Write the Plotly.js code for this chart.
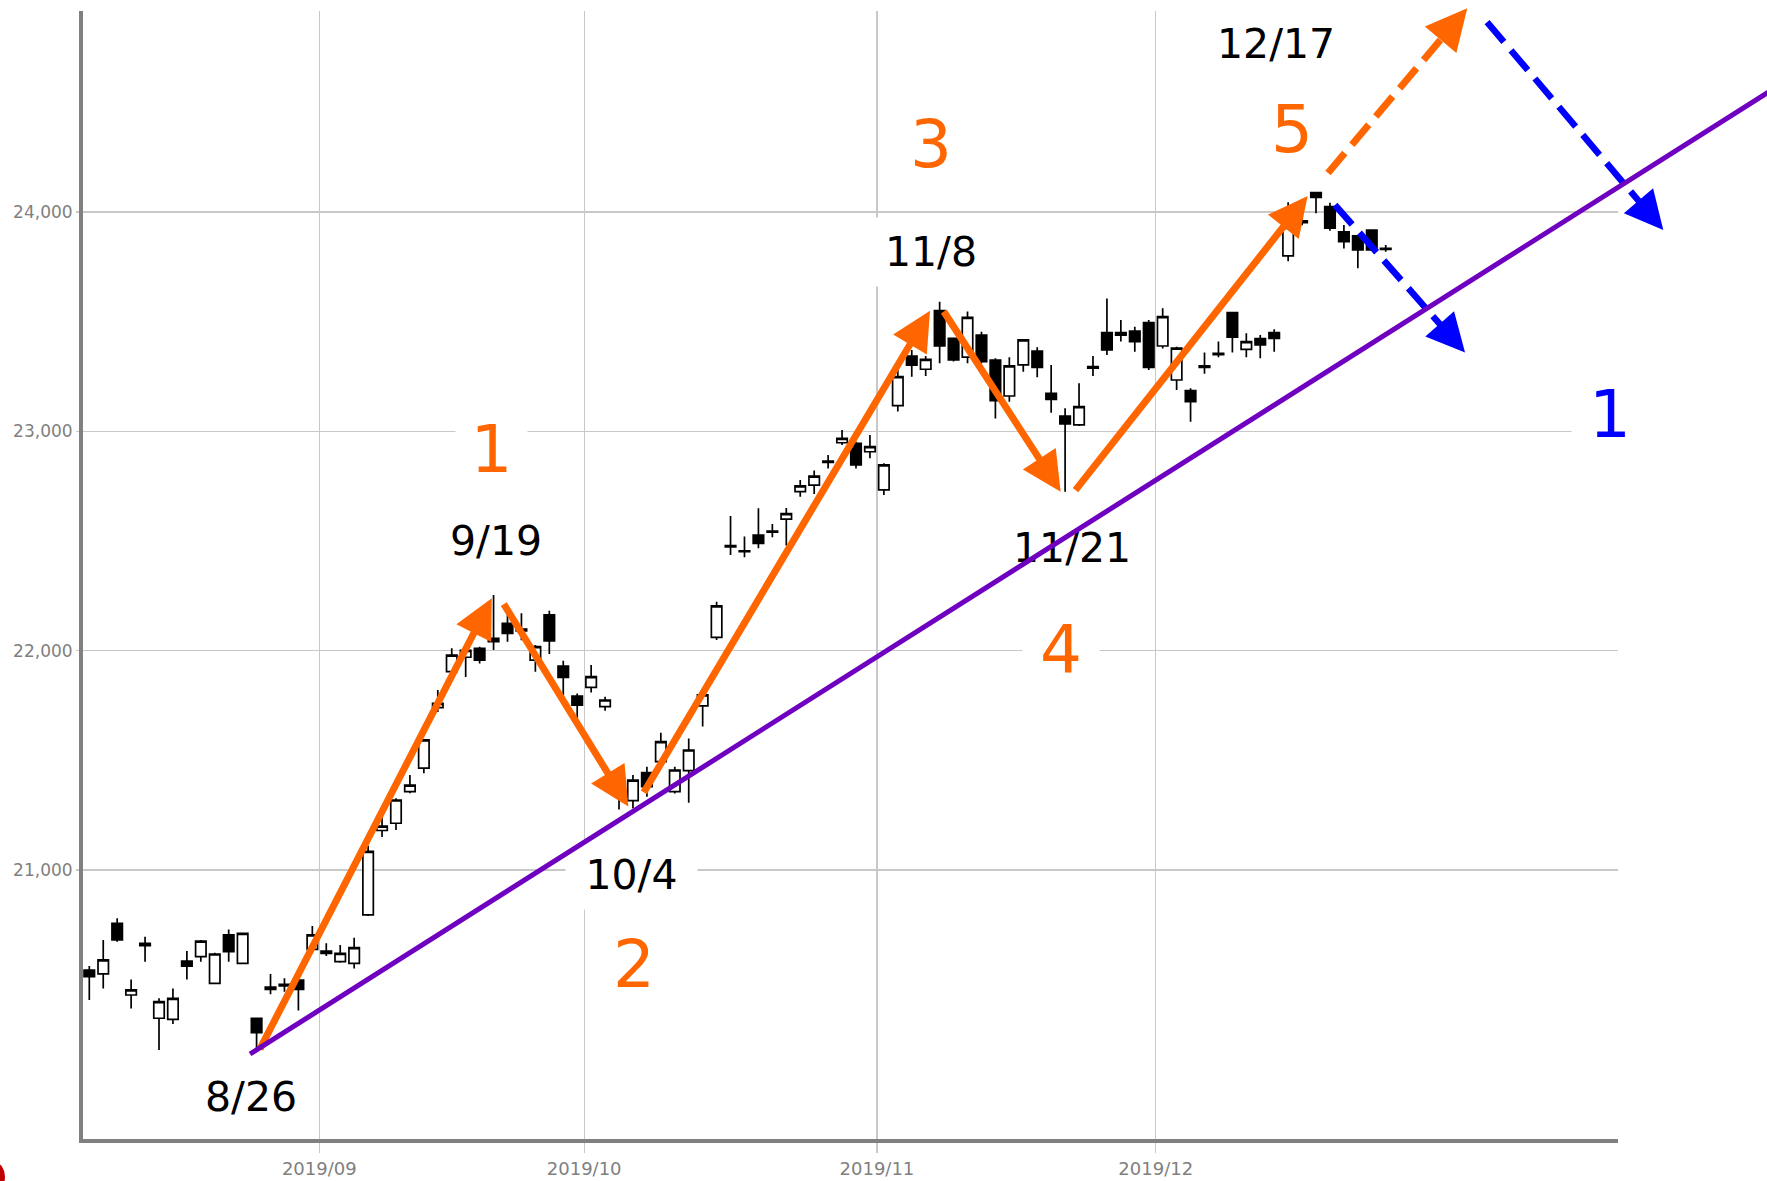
<!DOCTYPE html>
<html>
<head>
<meta charset="utf-8">
<script src="https://cdn.plot.ly/plotly-3.0.1.min.js"></script>
<style>
  html, body { margin: 0; padding: 0; background: #ffffff; }
  #chart { width: 1767px; height: 1181px; }
</style>
</head>
<body>
<div id="chart"></div>
<script>
// ---------------- DATA ----------------
const tradeDates = [
  '2019-08-07','2019-08-08','2019-08-09','2019-08-13','2019-08-14','2019-08-15','2019-08-16','2019-08-19','2019-08-20','2019-08-21',
  '2019-08-22','2019-08-23','2019-08-26','2019-08-27','2019-08-28','2019-08-29','2019-08-30','2019-09-02','2019-09-03','2019-09-04',
  '2019-09-05','2019-09-06','2019-09-09','2019-09-10','2019-09-11','2019-09-12','2019-09-13','2019-09-17','2019-09-18','2019-09-19',
  '2019-09-20','2019-09-24','2019-09-25','2019-09-26','2019-09-27','2019-09-30','2019-10-01','2019-10-02','2019-10-03','2019-10-04',
  '2019-10-07','2019-10-08','2019-10-09','2019-10-10','2019-10-11','2019-10-15','2019-10-16','2019-10-17','2019-10-18','2019-10-21',
  '2019-10-23','2019-10-24','2019-10-25','2019-10-28','2019-10-29','2019-10-30','2019-10-31','2019-11-01','2019-11-05','2019-11-06',
  '2019-11-07','2019-11-08','2019-11-11','2019-11-12','2019-11-13','2019-11-14','2019-11-15','2019-11-18','2019-11-19','2019-11-20',
  '2019-11-21','2019-11-22','2019-11-25','2019-11-26','2019-11-27','2019-11-28','2019-11-29','2019-12-02','2019-12-03','2019-12-04',
  '2019-12-05','2019-12-06','2019-12-09','2019-12-10','2019-12-11','2019-12-12','2019-12-13','2019-12-16','2019-12-17','2019-12-18',
  '2019-12-19','2019-12-20','2019-12-23','2019-12-24'
];
const openPrices = [
  20544,20526,20757,20430,20666,20324,20319,20585,20605,20483,
  20704,20574,20324,20466,20472,20498,20638,20630,20582,20574,
  20795,21180,21213,21357,21464,21740,21904,21970,22011,22056,
  22125,22090,21957,22163,21930,21793,21833,21745,21430,21316,
  21444,21494,21357,21453,21748,22061,22479,22455,22527,22540,
  22600,22725,22755,22858,22948,22945,22907,22733,23117,23343,
  23283,23550,23424,23338,23439,23325,23161,23303,23366,23173,
  23070,23029,23288,23450,23450,23457,23496,23389,23234,23186,
  23292,23350,23541,23374,23423,23450,23800,23960,24088,24025,
  23910,23891,23918,23834
];
const highPrices = [
  20562,20681,20780,20501,20696,20415,20460,20631,20681,20623,
  20729,20714,20324,20526,20506,20498,20745,20666,20658,20691,
  21110,21240,21327,21433,21596,21821,22011,22030,22018,22254,
  22163,22170,22026,22182,21954,21805,21935,21790,21440,21433,
  21471,21626,21471,21600,21813,22223,22614,22520,22649,22578,
  22650,22778,22821,22892,23006,22953,22983,22854,23280,23371,
  23343,23591,23424,23546,23454,23333,23338,23417,23383,23302,
  23105,23219,23344,23606,23508,23477,23508,23561,23386,23196,
  23359,23409,23541,23447,23439,23465,24045,23980,24091,24042,
  23941,23895,23921,23850
];
const lowPrices = [
  20407,20460,20673,20369,20582,20179,20298,20501,20582,20480,
  20582,20571,20170,20434,20445,20359,20635,20608,20577,20551,
  20790,21150,21182,21350,21441,21720,21882,21880,21942,22003,
  22041,22048,21904,21985,21775,21684,21809,21726,21276,21281,
  21334,21471,21349,21307,21654,22049,22436,22426,22467,22517,
  22480,22702,22714,22831,22938,22831,22877,22710,23090,23249,
  23252,23310,23318,23310,23310,23059,23135,23272,23246,23085,
  22725,23024,23252,23348,23409,23363,23280,23378,23189,23044,
  23262,23338,23359,23338,23333,23363,23775,23940,23994,23915,
  23834,23743,23824,23819
];
const closePrices = [
  20514,20590,20681,20453,20655,20400,20415,20562,20676,20617,
  20628,20711,20258,20456,20479,20456,20704,20620,20620,20646,
  21085,21200,21319,21387,21593,21760,21980,22001,21957,22041,
  22079,22098,22018,22044,21878,21752,21882,21775,21342,21410,
  21380,21585,21456,21547,21798,22204,22473,22451,22489,22545,
  22625,22751,22796,22864,22968,22847,22930,22847,23249,23302,
  23328,23389,23326,23520,23318,23140,23298,23417,23292,23146,
  23034,23113,23295,23371,23438,23409,23292,23523,23379,23135,
  23298,23355,23429,23409,23394,23424,23930,23952,24067,23926,
  23865,23827,23827,23830
];

// axis ticks
const monthTickPos  = [16.5, 35.5, 56.5, 76.5];
const monthTickText = ['2019/09', '2019/10', '2019/11', '2019/12'];
const priceTickVals = [21000, 22000, 23000, 24000];
const priceTickText = ['21,000', '22,000', '23,000', '24,000'];

// Elliott wave arrows (trading-day position, price)
const waveFromPos = [12.20, 29.70, 39.74, 61.26, 70.71];
const waveFromVal = [20179, 22216, 21350, 23550, 22729];
const waveToPos   = [28.87, 38.67, 60.31, 69.68, 87.40];
const waveToVal   = [22239, 21289, 23550, 22725, 24073];

// projected (dashed) arrows: orange up, blue down, blue down
const projFromPos = [88.86, 89.36, 100.27];
const projFromVal = [24178, 24032, 24866];
const projToPos   = [98.85, 98.69, 112.91];
const projToVal   = [24929, 23359, 23918];

// support trend line
const trendPos = [11.53, 121.0];
const trendVal = [20161, 24569];

// wave count labels
const waveLabelText = ['1', '2', '3', '4', '5'];
const waveLabelPos  = [28.82, 39.08, 60.38, 69.71, 86.31];
const waveLabelVal  = [22919, 20567, 24310, 22008, 24378];
// alternative count label
const altLabelText = ['1'];
const altLabelPos  = [109.09];
const altLabelVal  = [23079];
// date labels
const dateLabelText = ['8/26', '9/19', '10/4', '11/8', '11/21', '12/17'];
const dateLabelPos  = [11.6, 29.18, 38.9, 60.38, 70.5, 85.13];
const dateLabelVal  = [19965, 22500, 20977, 23819, 22468, 24764];

// ---------------- GEOMETRY ----------------
const W = 1767, H = 1181;
const PLOT = { left: 83, right: 1618, top: 11, bottom: 1139 };
const X0 = 89.3, DX = 13.94;        // px of first trading day, px per trading day
const YREF = 212, DY = 0.21933;     // px of 24,000, px per yen
const posAt = px => (px - X0) / DX;
const valAt = py => 24000 - (py - YREF) / DY;
const toPx = (p, v) => [X0 + p * DX, YREF + (24000 - v) * DY];

const xPos = tradeDates.map((d, i) => i);

const FONT = 'DejaVu Sans';
const ORANGE = '#FF6600';
const BLUE = '#0000FF';
const PURPLE = '#7000C0';

const traces = [];
traces.push({
  type: 'candlestick',
  x: xPos, open: openPrices, high: highPrices, low: lowPrices, close: closePrices,
  text: tradeDates,
  xaxis: 'x', yaxis: 'y',
  increasing: { line: { color: '#000000', width: 1.7 }, fillcolor: '#ffffff' },
  decreasing: { line: { color: '#000000', width: 1.7 }, fillcolor: '#000000' },
  whiskerwidth: 0,
  hoverinfo: 'skip',
  showlegend: false
});

const annotations = [];

// date labels
const bgDates = { '10/4': true, '11/8': true };
dateLabelText.forEach((t, i) => {
  const a = {
    x: dateLabelPos[i], y: dateLabelVal[i], xref: 'x2', yref: 'y2',
    text: t, showarrow: false, xanchor: 'center', yanchor: 'middle',
    font: { family: FONT, size: 41, color: '#000000' }, borderpad: 0
  };
  if (bgDates[t]) { a.bgcolor = '#ffffff'; a.width = t === '10/4' ? 131 : 120; a.height = 68; }
  annotations.push(a);
});
// wave numbers
const bgWave = [true, false, false, true, false];
waveLabelText.forEach((t, i) => {
  const a = {
    x: waveLabelPos[i], y: waveLabelVal[i], xref: 'x2', yref: 'y2',
    text: t, showarrow: false, xanchor: 'center', yanchor: 'middle',
    font: { family: FONT, size: 66, color: ORANGE }, borderpad: 0
  };
  if (bgWave[i]) { a.bgcolor = '#ffffff'; a.width = i === 0 ? 71 : 76; a.height = 84; }
  annotations.push(a);
});
altLabelText.forEach((t, i) => {
  annotations.push({
    x: altLabelPos[i], y: altLabelVal[i], xref: 'x2', yref: 'y2',
    text: t, showarrow: false, xanchor: 'center', yanchor: 'middle',
    font: { family: FONT, size: 66, color: BLUE }, borderpad: 0,
    bgcolor: '#ffffff', width: 76, height: 84
  });
});

// solid wave arrows
waveFromPos.forEach((p, i) => {
  annotations.push({
    x: waveToPos[i], y: waveToVal[i], ax: p, ay: waveFromVal[i],
    xref: 'x2', yref: 'y2', axref: 'x2', ayref: 'y2',
    text: ' ', font: { size: 1 }, borderpad: 0, showarrow: true,
    arrowhead: 2, arrowsize: 1.12, arrowwidth: 7, arrowcolor: ORANGE, standoff: 0
  });
});

// dashed projection arrows
const projColor = [ORANGE, BLUE, BLUE];
const projWidth = [7, 6.5, 6.5];
projFromPos.forEach((p, i) => {
  const a = toPx(p, projFromVal[i]);
  const b = toPx(projToPos[i], projToVal[i]);
  const dx = b[0] - a[0], dy = b[1] - a[1];
  const len = Math.hypot(dx, dy);
  const ux = dx / len, uy = dy / len;
  const endPx = [b[0] - ux * 16, b[1] - uy * 16];
  traces.push({
    type: 'scatter', mode: 'lines',
    x: [p, posAt(endPx[0])], y: [projFromVal[i], valAt(endPx[1])],
    xaxis: 'x2', yaxis: 'y2', hoverinfo: 'skip', showlegend: false,
    line: { color: projColor[i], width: projWidth[i], dash: '26px,11px' }
  });
  annotations.push({
    x: projToPos[i], y: projToVal[i], xref: 'x2', yref: 'y2',
    ax: -ux * 18, ay: -uy * 18,
    text: ' ', font: { size: 1 }, borderpad: 0, showarrow: true,
    arrowhead: 2, arrowsize: 1.18, arrowwidth: projWidth[i], arrowcolor: projColor[i], standoff: 0
  });
});

// trend line (drawn last, on top)
annotations.push({
  x: trendPos[0], y: trendVal[0], ax: trendPos[1], ay: trendVal[1],
  xref: 'x2', yref: 'y2', axref: 'x2', ayref: 'y2',
  text: ' ', font: { size: 1 }, borderpad: 0, showarrow: true,
  arrowhead: 0, arrowwidth: 5, arrowcolor: PURPLE, standoff: 0
});

const layout = {
  width: W, height: H,
  margin: { l: 0, r: 0, t: 0, b: 0, pad: 0 },
  paper_bgcolor: '#ffffff',
  plot_bgcolor: 'rgba(0,0,0,0)',
  showlegend: false,
  boxgap: 0.25, boxgroupgap: 0,
  xaxis: {
    domain: [PLOT.left / W, PLOT.right / W],
    range: [posAt(PLOT.left), posAt(PLOT.right)],
    type: 'linear', anchor: 'y',
    tickmode: 'array', tickvals: monthTickPos, ticktext: monthTickText,
    showgrid: true, gridcolor: '#c8c8c8', gridwidth: 1.3,
    zeroline: false,
    showline: true, linecolor: '#808080', linewidth: 4,
    ticks: 'outside', ticklen: 10, tickwidth: 1.3, tickcolor: '#c8c8c8',
    tickfont: { family: FONT, size: 18, color: '#808080' },
    rangeslider: { visible: false },
    fixedrange: true
  },
  yaxis: {
    domain: [1 - PLOT.bottom / H, 1 - PLOT.top / H],
    range: [valAt(PLOT.bottom), valAt(PLOT.top)],
    anchor: 'x',
    tickmode: 'array', tickvals: priceTickVals, ticktext: priceTickText,
    showgrid: true, gridcolor: '#c8c8c8', gridwidth: 1.3,
    zeroline: false,
    showline: true, linecolor: '#808080', linewidth: 4,
    ticks: 'outside', ticklen: 3, tickwidth: 1.3, tickcolor: '#c8c8c8',
    tickfont: { family: FONT, size: 17, color: '#808080' },
    fixedrange: true
  },
  xaxis2: {
    domain: [0, 1], range: [posAt(0), posAt(W)], anchor: 'y2',
    visible: false, fixedrange: true
  },
  yaxis2: {
    domain: [0, 1], range: [valAt(H), valAt(0)], anchor: 'x2',
    visible: false, fixedrange: true
  },
  annotations: annotations,
  shapes: [{
    type: 'circle', xref: 'paper', yref: 'paper',
    x0: -14 / W, x1: 5 / W, y0: 1 - 1190 / H, y1: 1 - 1163 / H,
    fillcolor: '#c00000', line: { width: 0 }
  }]
};

Plotly.newPlot('chart', traces, layout, { displayModeBar: false, staticPlot: true });
</script>
</body>
</html>
